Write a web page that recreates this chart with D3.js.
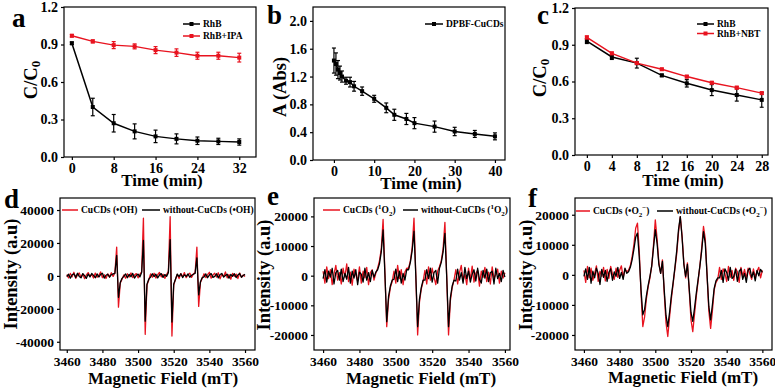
<!DOCTYPE html>
<html>
<head>
<meta charset="utf-8">
<script src="https://cdn.jsdelivr.net/npm/d3@7"></script>
<style>
body { margin: 0; background: #fff; }
svg { display: block; font-family: "Liberation Serif", "Times New Roman", serif; font-weight: bold; }
</style>
</head>
<body>
<svg id="fig" width="775" height="389"></svg>
<script>
const RED = "#e8131f";

// (a) RhB with / without IPA
const timeA = [0, 4, 8, 12, 16, 20, 24, 28, 32];
const rhbA = [0.91, 0.40, 0.27, 0.205, 0.165, 0.145, 0.13, 0.125, 0.12];
const rhbAErr = [0.01, 0.07, 0.07, 0.06, 0.05, 0.04, 0.03, 0.025, 0.025];
const ipaA = [0.97, 0.925, 0.895, 0.885, 0.855, 0.835, 0.81, 0.81, 0.795];
const ipaAErr = [0.01, 0.012, 0.028, 0.02, 0.028, 0.03, 0.028, 0.028, 0.035];

// (b) DPBF absorbance
const timeB = [0, 0.5, 1, 1.5, 2, 3, 4, 5, 7, 10, 13, 15, 18, 20, 25, 30, 35, 40];
const dpbfB = [1.43, 1.38, 1.3, 1.25, 1.2, 1.14, 1.12, 1.06, 0.99, 0.88, 0.75, 0.65, 0.59, 0.53, 0.48, 0.41, 0.375, 0.34];
const dpbfBErr = [0.18, 0.16, 0.13, 0.1, 0.08, 0.05, 0.07, 0.07, 0.06, 0.05, 0.07, 0.08, 0.08, 0.08, 0.08, 0.06, 0.05, 0.05];

// (c) RhB with / without NBT
const timeC = [0, 4, 8, 12, 16, 20, 24, 28];
const rhbC = [0.93, 0.80, 0.75, 0.65, 0.585, 0.53, 0.49, 0.45];
const rhbCErr = [0.02, 0.02, 0.04, 0.01, 0.03, 0.045, 0.05, 0.06];
const nbtC = [0.96, 0.83, 0.75, 0.70, 0.64, 0.59, 0.55, 0.505];
const nbtCErr = [0.012, 0.01, 0.01, 0.008, 0.01, 0.01, 0.01, 0.01];

// ESR spectra, one reading per mT from 3460 to 3560
const esrField = d3.range(3460, 3561, 1);
const ohRed = [800, -1200, 1500, -600, 2200, -1500, 400, 1800, -900, 1100, -1700, 600, 2000, -400, 900, -1300, 1700, -800, 300, 2400, -1100, 700, -1600, 1200, -500, 1900, -300,
  2000, 17500, -19000, -4500, -2000,
  600, -1400, 1300, -700, 1800, -1000, 500, 1400, -1200, 900,
  2500, 35000, -35500, -5500, -2500,
  1200, -800, 1600, -1300, 700, 2100, -600, 1000, -1500, 800,
  2800, 36000, -36500, -5500, -2000,
  900, -1600, 1400, -500, 2000, -1100, 600, 1700, -900, 1100,
  2000, 17500, -18500, -4000, -1500,
  1300, -1000, 700, 2200, -1400, 500, 1600, -700, 1900, -1800, 1000, -500, 2400, -1200, 800, -2000, 1500, -300, 1100, -1600, 1800, -900, 600, -400];
const ohBlack = [-500, 1000, -1400, 700, 1300, -900, 1600, -300, -1200, 1400, 200, -1500, 1100, -600, 1500, 300, -1100, 1200, -700, 900, 1600, -1300, 400, 1000, -800, 700, 1200,
  1500, 12500, -13000, -4000, -1500,
  -300, 1200, -1100, 900, -500, 1500, -1300, 300, 1100, -600,
  2000, 21500, -27500, -5000, -2000,
  -700, 1300, -400, 1000, -1200, 500, 1400, -900, 800, -300,
  2000, 22000, -28000, -5000, -2000,
  1100, -400, 1300, -1000, 700, -300, 1200, -800, 400, 1000,
  1500, 11000, -11500, -3500, -1000,
  -600, 1200, -1100, 500, 1400, -900, -300, 1300, -1200, 800, 1500, -700, 300, 1000, -1400, 900, -200, 1300, -1000, 600, 1400, -800, 200, 900];
const singletRed = [1500, -2500, 3000, -1000, 2000, -3000, 500, 3500, -1500, 1000, -2800, 2500, -500, 4000, -2000, 1200, -3200, 2200, 300, -1800, 3000, -2500, 1500, -700, 2800, -3000, 1000, 2000, -1500, 800,
  2500, 5000, 9000, 19000, 1000, -17200, -8000, -4000, -2000,
  1500, -2500, 3500, -1000, 2000, -3000, 1200, 2500,
  2500, 5000, 9500, 19400, 0, -20000, -9000, -4500, -2000,
  1800, -2800, 3000, -1500, 2500, -500, -3000, 1500,
  3000, 5000, 9000, 18000, -500, -20000, -8500, -4000, -1500,
  2000, -2800, 1000, 3500, -1800, 500, -3000, 2500, -1200, 3200, -2200, 800, 1800, -3500, 1500, -600, 2800, -2000, 1200, -2800, 3000, -1000, 500, 2200, -2500, 1500, -800, 1000];
const singletBlack = [-1000, 2000, -2200, 1500, -500, 2500, -2800, 1000, 1800, -1500, 2200, -2000, 800, -1200, 2800, -2500, 1500, -800, 2000, -3000, 1200, 500, -2200, 2500, -1500, 1000, -2000, 1800, -500, 1200,
  2000, 4000, 8000, 15400, 500, -15500, -7000, -3500, -1500,
  -1200, 2200, -2000, 1500, -2500, 800, -1500, 2000,
  2000, 4500, 8500, 15000, 0, -17200, -8000, -4000, -1500,
  -1500, 2000, -1000, 2500, -2200, 1000, 1800, -2500,
  2500, 4500, 8000, 14300, -500, -17200, -7500, -3500, -1500,
  -1800, 2200, -1500, 1000, -2500, 2800, -1000, 1500, -2200, 500, 2000, -1800, 2500, -1200, -2500, 1800, -800, 2200, -2000, 1000, 1500, -2800, 2500, -1000, 800, -2000, 1800, -500];
const superRed = [1500, -2500, 2800, -1000, 2200, -1800, 500, 3000, -2200, 1200, -500, 2500, -2000, 1800, -1200, 2800, 300, -1500, 2200, -800, 1500, 3000, -1000, 2000, 1000,
  1500, 3000, 6000, 10000, 15500, 17200, 8000, -6000, -17200, -14000, -8000, -4000, -1000, 3000, 10000, 18300, 12000, 4000, 500, 5000,
  -6000, -16000, -20500, -14000, -8000, -3000, 2000, 7000, 14000, 19400, 13000, 4000, -1000, 4000,
  -5000, -15000, -18900, -13000, -7000, -2000, 3000, 9000, 16100, 12000, 0, -12000, -17800, -12000, -5000, -2500, -1500,
  2500, -1500, 2000, 500, -2200, 2800, -800, 1500, -1800, 2200, 1000, -2500, 2500, -500, 1800, -1200, 2200, 300, -1500, 2000, -800, 1200, 2500, -1000, 1500];
const superBlack = [-500, 2000, -1500, 2500, -2800, 1200, -1000, 2200, 500, -3200, 1800, -800, 1500, -2200, 800, 2000, -1800, 1000, -500, 2500, -1200, 800, -1500, 2200, 500,
  1000, 2500, 5000, 8500, 12500, 13900, 6000, -5000, -13300, -11500, -7000, -3500, -500, 3000, 9000, 15000, 10500, 3500, 500, 4500,
  -5000, -13500, -17200, -12500, -7000, -2500, 2500, 8000, 15000, 19400, 12500, 3500, -500, 3500,
  -4500, -12500, -15500, -11000, -6000, -1500, 3000, 8000, 14400, 10500, 0, -10500, -15000, -10000, -4500, -2000, -1000,
  -1000, 1500, -2500, 2000, 800, -1800, 2500, -1200, -500, 1800, -2200, 1200, 2000, -1500, 500, -2500, 1500, 2200, -800, 1000, -2000, 1500, -300, 1800, 800];

const timeTicksA = [0, 8, 16, 24, 32];
const timeTicksB = [0, 10, 20, 30, 40];
const timeTicksC = [0, 4, 8, 12, 16, 20, 24, 28];
const ratioTicks = [0, 0.3, 0.6, 0.9, 1.2];
const absTicks = [0, 0.4, 0.8, 1.2, 1.6, 2.0];
const fieldTicks = [3460, 3480, 3500, 3520, 3540, 3560];
const ohTicks = [-40000, -20000, 0, 20000, 40000];
const o2Ticks = [-20000, -10000, 0, 10000, 20000];

const svg = d3.select("#fig");

function panel(o) {
  const x = d3.scaleLinear().domain(o.xDomain).range([o.left, o.right]);
  const y = d3.scaleLinear().domain(o.yDomain).range([o.bottom, o.top]);
  const g = svg.append("g");

  const xAxis = g.append("g")
    .attr("transform", `translate(0,${o.bottom})`)
    .call(d3.axisBottom(x).tickValues(o.xTicks).tickSize(3).tickPadding(3).tickFormat(d => String(d)));
  const yAxis = g.append("g")
    .attr("transform", `translate(${o.left},0)`)
    .call(d3.axisLeft(y).tickValues(o.yTicks).tickSize(3).tickPadding(3).tickFormat(o.yFormat));
  [xAxis, yAxis].forEach(a => {
    a.select(".domain").remove();
    a.selectAll("line").attr("stroke", "#000").attr("stroke-width", 1.2);
    a.selectAll("text").attr("fill", "#000").attr("font-size", o.tickSize)
      .attr("font-family", "Liberation Serif, serif").attr("font-weight", "bold");
  });

  g.append("rect")
    .attr("x", o.left).attr("y", o.top)
    .attr("width", o.right - o.left).attr("height", o.bottom - o.top)
    .attr("fill", "none").attr("stroke", "#000").attr("stroke-width", 1.2);

  g.append("text")
    .attr("x", o.xTitle[0]).attr("y", o.xTitle[1])
    .attr("text-anchor", "middle").attr("font-size", 17)
    .text(o.xLabel);

  const yt = g.append("text")
    .attr("transform", `translate(${o.yTitle[0]},${o.yTitle[1]}) rotate(-90)`)
    .attr("text-anchor", "middle").attr("font-size", 18.5);
  rich(yt, o.yLabel, 13);

  g.append("text")
    .attr("x", o.letter[1]).attr("y", o.letter[2])
    .attr("font-size", 27)
    .text(o.letter[0]);

  return {g, x, y};
}

// text pieces: [string, "n" | "sub" | "sup"]
function rich(sel, parts, small) {
  let shift = 0;
  parts.forEach(([s, kind]) => {
    const target = kind === "sub" ? 3 : kind === "sup" ? -4 : 0;
    const t = sel.append("tspan").attr("dy", target - shift).text(s);
    if (kind !== "n") t.attr("font-size", small);
    shift = target;
  });
}

function errorSeries(p, xs, ys, errs, color) {
  const pts = xs.map((t, i) => ({t, v: ys[i], e: errs[i]}));
  p.g.append("path")
    .datum(pts)
    .attr("fill", "none").attr("stroke", color).attr("stroke-width", 1.5)
    .attr("d", d3.line().x(d => p.x(d.t)).y(d => p.y(d.v)));
  const bars = p.g.append("g").attr("stroke", color).attr("stroke-width", 1.2);
  pts.forEach(d => {
    const cx = p.x(d.t);
    bars.append("line").attr("x1", cx).attr("x2", cx).attr("y1", p.y(d.v - d.e)).attr("y2", p.y(d.v + d.e));
    [d.v - d.e, d.v + d.e].forEach(v => {
      bars.append("line").attr("x1", cx - 2).attr("x2", cx + 2).attr("y1", p.y(v)).attr("y2", p.y(v));
    });
  });
  p.g.append("g").selectAll("rect").data(pts).join("rect")
    .attr("x", d => p.x(d.t) - 2).attr("y", d => p.y(d.v) - 2)
    .attr("width", 4).attr("height", 4).attr("fill", color);
}

function spectrum(p, values, color) {
  p.g.append("path")
    .datum(values.map((v, i) => [esrField[i], v]))
    .attr("fill", "none").attr("stroke", color).attr("stroke-width", 1.3)
    .attr("stroke-linejoin", "round")
    .attr("d", d3.line().x(d => p.x(d[0])).y(d => p.y(d[1])));
}

function legendLine(p, x0, x1, y, color, marker, label) {
  p.g.append("line").attr("x1", x0).attr("x2", x1).attr("y1", y).attr("y2", y)
    .attr("stroke", color).attr("stroke-width", 1.5);
  if (marker) {
    p.g.append("rect").attr("x", (x0 + x1) / 2 - 2).attr("y", y - 2)
      .attr("width", 4).attr("height", 4).attr("fill", color);
  }
  const t = p.g.append("text").attr("x", x1 + 3).attr("y", y + 3.3).attr("font-size", 9.5);
  rich(t, label, 7);
}

const ratioFmt = d3.format(".1f");
const plainFmt = d => String(d);
const timeLabel = "Time (min)";
const fieldLabel = "Magnetic Field (mT)";

// (a)
const pa = panel({left: 64, right: 256, top: 7, bottom: 157, xDomain: [-1.5, 35.2], yDomain: [0, 1.2],
  xTicks: timeTicksA, yTicks: ratioTicks, yFormat: ratioFmt, tickSize: 14,
  xLabel: timeLabel, xTitle: [162, 185.5], yLabel: [["C/C", "n"], ["0", "sub"]], yTitle: [37, 80], letter: ["a", 12, 27]});
errorSeries(pa, timeA, rhbA, rhbAErr, "#000");
errorSeries(pa, timeA, ipaA, ipaAErr, RED);
legendLine(pa, 183, 200, 24, "#000", true, [["RhB", "n"]]);
legendLine(pa, 183, 200, 36, RED, true, [["RhB+IPA", "n"]]);

// (b)
const pb = panel({left: 313, right: 505, top: 7, bottom: 160, xDomain: [-5.2, 42.5], yDomain: [0, 2.2],
  xTicks: timeTicksB, yTicks: absTicks, yFormat: ratioFmt, tickSize: 14,
  xLabel: timeLabel, xTitle: [421, 189], yLabel: [["A (Abs)", "n"]], yTitle: [286, 87], letter: ["b", 267, 24]});
errorSeries(pb, timeB, dpbfB, dpbfBErr, "#000");
legendLine(pb, 425, 443, 24, "#000", true, [["DPBF-CuCDs", "n"]]);

// (c)
const pc = panel({left: 575, right: 768, top: 8, bottom: 155, xDomain: [-1.9, 29], yDomain: [0, 1.2],
  xTicks: timeTicksC, yTicks: ratioTicks, yFormat: ratioFmt, tickSize: 14,
  xLabel: timeLabel, xTitle: [683, 186], yLabel: [["C/C", "n"], ["0", "sub"]], yTitle: [546, 78], letter: ["c", 537, 24]});
errorSeries(pc, timeC, rhbC, rhbCErr, "#000");
errorSeries(pc, timeC, nbtC, nbtCErr, RED);
legendLine(pc, 697, 714, 24, "#000", true, [["RhB", "n"]]);
legendLine(pc, 697, 714, 33.5, RED, true, [["RhB+NBT", "n"]]);

// (d)
const pd = panel({left: 60, right: 255, top: 198, bottom: 350, xDomain: [3456.2, 3565.6], yDomain: [-45000, 47300],
  xTicks: fieldTicks, yTicks: ohTicks, yFormat: plainFmt, tickSize: 13.5,
  xLabel: fieldLabel, xTitle: [163, 384], yLabel: [["Intensity (a.u)", "n"]], yTitle: [17, 274], letter: ["d", 4, 208]});
spectrum(pd, ohRed, RED);
spectrum(pd, ohBlack, "#000");
legendLine(pd, 62, 78, 210, RED, false, [["CuCDs (\u2022OH)", "n"]]);
legendLine(pd, 142, 160, 210, "#000", false, [["without-CuCDs (\u2022OH)", "n"]]);

// (e)
const pe = panel({left: 314, right: 510, top: 198, bottom: 350, xDomain: [3455, 3562.8], yDomain: [-25070, 26200],
  xTicks: fieldTicks, yTicks: o2Ticks, yFormat: plainFmt, tickSize: 13.5,
  xLabel: fieldLabel, xTitle: [421, 384], yLabel: [["Intensity (a.u)", "n"]], yTitle: [270, 275], letter: ["e", 267, 205]});
spectrum(pe, singletRed, RED);
spectrum(pe, singletBlack, "#000");
legendLine(pe, 323, 340, 210, RED, false, [["CuCDs (", "n"], ["1", "sup"], ["O", "n"], ["2", "sub"], [")", "n"]]);
legendLine(pe, 403, 418, 210, "#000", false, [["without-CuCDs (", "n"], ["1", "sup"], ["O", "n"], ["2", "sub"], [")", "n"]]);

// (f)
const pf = panel({left: 575, right: 772, top: 198, bottom: 350, xDomain: [3455, 3565.4], yDomain: [-25000, 25570],
  xTicks: fieldTicks, yTicks: o2Ticks, yFormat: plainFmt, tickSize: 13.5,
  xLabel: fieldLabel, xTitle: [683, 383], yLabel: [["Intensity (a.u)", "n"]], yTitle: [532, 275], letter: ["f", 528, 207]});
spectrum(pf, superRed, RED);
spectrum(pf, superBlack, "#000");
legendLine(pf, 576, 590, 211, RED, false, [["CuCDs (\u2022O", "n"], ["2", "sub"], ["\u2212", "sup"], [")", "n"]]);
legendLine(pf, 657, 673, 211, "#000", false, [["without-CuCDs (\u2022O", "n"], ["2", "sub"], ["\u2212", "sup"], [")", "n"]]);
</script>
</body>
</html>
